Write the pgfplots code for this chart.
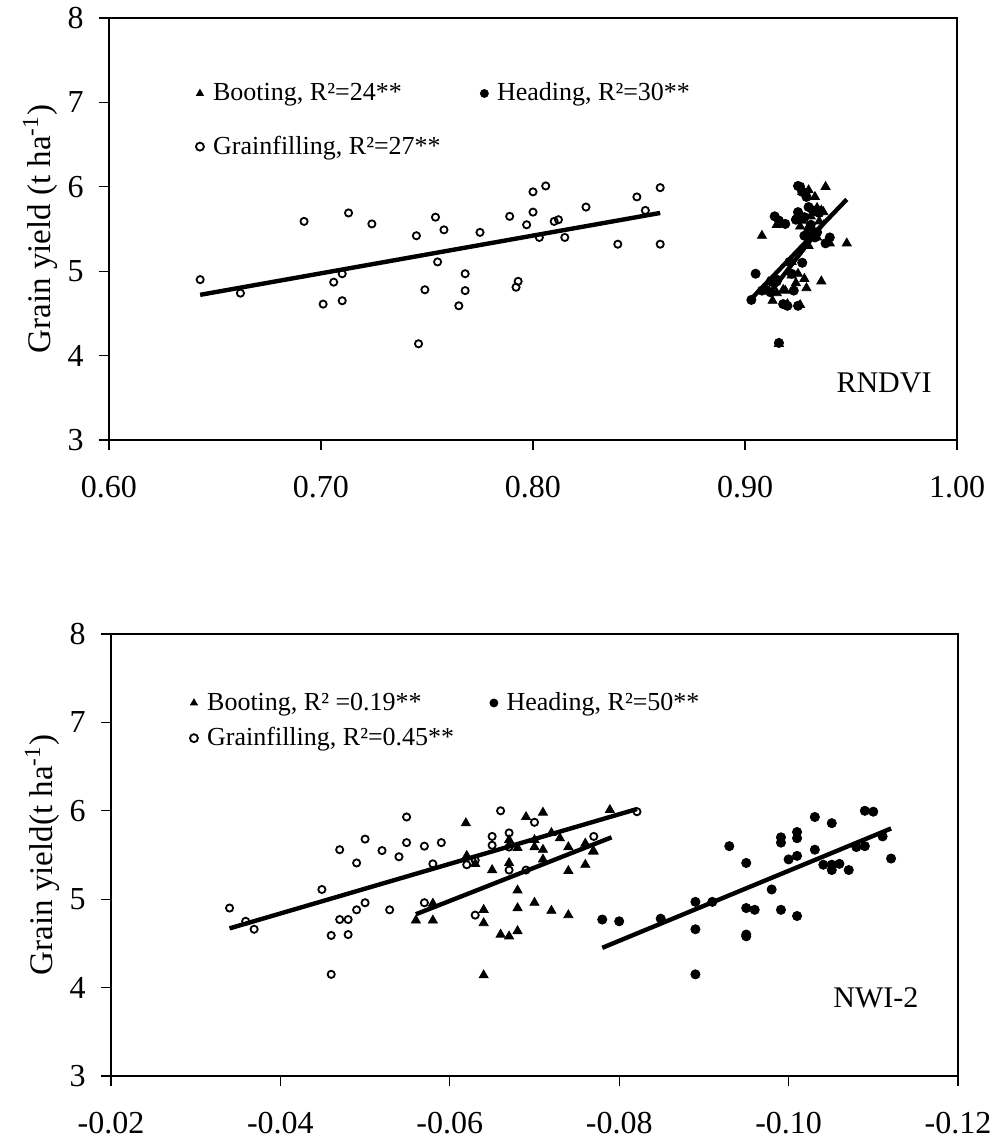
\documentclass[border=0pt]{standalone}
\usepackage{fontspec}
\setmainfont{Liberation Serif}
\usepackage{pgfplots}
\pgfplotsset{compat=1.18}

% 1 px of the reference = 0.5pt
\pgfplotsset{
  panel/.style={
    scale only axis,
    anchor=south west,
    ymin=3, ymax=8, ytick={3,4,5,6,7,8},
    tick align=outside, major tick length=5pt,
    tick pos=left,
    tick style={black, line width=0.6pt},
    /pgf/number format/assume math mode=true,
    ticklabel style={font=\fontsize{16}{18}\selectfont},
    x tick label style={yshift=-9.8pt},
    y tick label style={xshift=-4.2pt},
    ylabel style={font=\fontsize{16.5}{18}\selectfont, at={(axis description cs:-0.081,0.5)}, anchor=center},
    legend columns=2,
    legend cell align=left,
    legend style={draw=none, fill=none, font=\fontsize{13}{15}\selectfont, anchor=west, inner sep=0pt},
  },
  trend/.style={black, line width=2.2pt, no markers, forget plot},
  smallleg/.style={legend image code/.code={\draw[mark repeat=2,mark phase=2,##1,mark size=2pt] plot coordinates {(0cm,0cm) (0.1cm,0cm) (0.22cm,0cm)};
      \path (0pt,0pt) (7pt,0pt);}},
  boot/.style={only marks, mark=triangle*, mark size=2.6pt, black, smallleg},
  head/.style={only marks, mark=*, mark size=2.3pt, black, smallleg},
  grain/.style={only marks, mark=o, mark size=1.8pt, black, line width=0.9pt, mark options={fill=white}, smallleg},
}

\begin{document}
\begin{tikzpicture}
\useasboundingbox (0,0) rectangle (496pt,571pt);

% ---------------- RNDVI ----------------
\begin{axis}[panel,
  at={(54.5pt,351pt)}, width=424pt, height=211pt,
  xmin=0.6, xmax=1.0,
  xtick={0.6,0.7,0.8,0.9,1.0},
  xticklabels={0.60,0.70,0.80,0.90,1.00},
  axis line style={line width=1.3pt},
  ylabel={Grain yield (t ha\textsuperscript{-1})},
  legend style={at={(axis description cs:0.099,0.758)}, row sep=12pt,
    /tikz/every even column/.append style={column sep=16.8pt}},
]
\addplot[boot] coordinates {
(0.908,5.42) (0.911,4.87) (0.913,4.65) (0.915,4.74) (0.916,4.14) (0.915,5.55)
(0.918,4.78) (0.920,4.61) (0.922,4.95) (0.924,4.86) (0.925,4.97) (0.926,4.60)
(0.927,5.60) (0.928,4.91) (0.929,4.80) (0.930,5.96) (0.931,5.65) (0.932,5.50)
(0.933,5.88) (0.934,5.40) (0.935,5.59) (0.936,4.88) (0.936,5.72) (0.937,5.70)
(0.938,6.00) (0.940,5.33) (0.948,5.33) (0.926,5.53) (0.930,5.30) (0.934,5.75)
(0.924,5.64) (0.922,5.11) (0.929,5.46) (0.932,5.69) (0.919,4.77) (0.927,5.94)
};
\addlegendentry{Booting, R²=24**}
\addplot[head] coordinates {
(0.903,4.66) (0.905,4.97) (0.908,4.77) (0.910,4.78) (0.912,4.75) (0.913,4.87)
(0.915,4.88) (0.916,4.15) (0.914,5.65) (0.915,4.90) (0.916,5.60) (0.918,4.61)
(0.919,5.56) (0.920,4.59) (0.921,5.11) (0.922,4.97) (0.923,4.77) (0.924,5.61)
(0.925,5.70) (0.925,4.59) (0.925,6.01) (0.926,6.00) (0.927,5.94) (0.927,5.10)
(0.928,5.64) (0.928,5.42) (0.929,5.88) (0.930,5.49) (0.930,5.76) (0.931,5.55)
(0.932,5.72) (0.933,5.40) (0.934,5.46) (0.935,5.69) (0.938,5.33) (0.940,5.40)
};
\addlegendentry{Heading, R²=30**}
\addplot[grain] coordinates {
(0.643,4.90) (0.662,4.74) (0.692,5.59) (0.713,5.69) (0.724,5.56) (0.701,4.61)
(0.706,4.87) (0.710,4.97) (0.710,4.65) (0.745,5.42) (0.754,5.64) (0.758,5.49)
(0.755,5.11) (0.749,4.78) (0.768,4.97) (0.768,4.77) (0.765,4.59) (0.775,5.46)
(0.789,5.65) (0.797,5.55) (0.800,5.70) (0.800,5.94) (0.806,6.01) (0.803,5.40)
(0.810,5.59) (0.812,5.61) (0.815,5.40) (0.792,4.81) (0.793,4.88) (0.825,5.76)
(0.840,5.32) (0.849,5.88) (0.853,5.72) (0.860,5.99) (0.860,5.32) (0.746,4.14)
};
\addlegendentry{Grainfilling, R²=27**}
\addplot[trend] coordinates {(0.643,4.72) (0.860,5.69)};
\addplot[trend] coordinates {(0.904,4.70) (0.948,5.85)};
\addplot[trend] coordinates {(0.912,4.75) (0.938,5.60)};
\node[font=\fontsize{15}{17}\selectfont] at (axis cs:0.9656,3.68) {RNDVI};
\end{axis}

% ---------------- NWI-2 ----------------
\begin{axis}[panel,
  at={(55.5pt,33pt)}, width=423.5pt, height=221pt,
  xmin=-0.12, xmax=-0.02, x dir=reverse,
  xtick={-0.02,-0.04,-0.06,-0.08,-0.10,-0.12},
  xticklabels={-0.02,-0.04,-0.06,-0.08,-0.10,-0.12},
  axis line style={line width=0.7pt},
  ylabel={Grain yield(t ha\textsuperscript{-1})},
  legend style={at={(axis description cs:0.0897,0.804)}, row sep=3pt,
    /tikz/every even column/.append style={column sep=14.8pt}},
]
\addplot[boot] coordinates {
(-0.0619,5.86) (-0.0690,5.93) (-0.0710,5.98) (-0.0720,5.75) (-0.0730,5.69) (-0.0740,5.59)
(-0.0760,5.63) (-0.0770,5.54) (-0.0740,5.32) (-0.0760,5.39) (-0.0700,5.67) (-0.0700,5.59)
(-0.0710,5.56) (-0.0710,5.45) (-0.0670,5.67) (-0.0680,5.58) (-0.0670,5.41) (-0.0650,5.33)
(-0.0620,5.49) (-0.0630,5.40) (-0.0680,5.10) (-0.0680,4.90) (-0.0700,4.96) (-0.0720,4.87)
(-0.0740,4.82) (-0.0580,4.95) (-0.0560,4.76) (-0.0580,4.76) (-0.0640,4.88) (-0.0640,4.73)
(-0.0660,4.60) (-0.0670,4.58) (-0.0680,4.64) (-0.0640,4.14) (-0.0789,6.01) (-0.0769,5.54)
};
\addlegendentry{Booting, R² =0.19**}
\addplot[head] coordinates {
(-0.0780,4.77) (-0.0800,4.75) (-0.0849,4.78) (-0.0890,4.97) (-0.0890,4.66) (-0.0890,4.15)
(-0.0910,4.97) (-0.0930,5.60) (-0.0950,5.41) (-0.0950,4.90) (-0.0950,4.60) (-0.0960,4.88)
(-0.0980,5.11) (-0.0991,5.70) (-0.0991,5.64) (-0.0991,4.88) (-0.1010,5.76) (-0.1010,5.69)
(-0.1010,5.49) (-0.1010,4.81) (-0.1031,5.93) (-0.1031,5.56) (-0.1041,5.39) (-0.1051,5.86)
(-0.1051,5.39) (-0.1051,5.33) (-0.1071,5.33) (-0.1080,5.59) (-0.1090,6.00) (-0.1090,5.60)
(-0.1100,5.99) (-0.1111,5.71) (-0.1121,5.46) (-0.0950,4.58) (-0.1000,5.45) (-0.1060,5.40)
};
\addlegendentry{Heading, R²=50**}
\addplot[grain] coordinates {
(-0.0340,4.90) (-0.0359,4.75) (-0.0369,4.66) (-0.0449,5.11) (-0.0470,5.56) (-0.0490,5.41)
(-0.0500,5.68) (-0.0520,5.55) (-0.0540,5.48) (-0.0549,5.93) (-0.0549,5.64) (-0.0570,5.60)
(-0.0590,5.64) (-0.0580,5.40) (-0.0470,4.77) (-0.0480,4.77) (-0.0490,4.88) (-0.0500,4.96)
(-0.0460,4.59) (-0.0480,4.60) (-0.0529,4.88) (-0.0460,4.15) (-0.0570,4.96) (-0.0620,5.39)
(-0.0630,5.44) (-0.0630,4.82) (-0.0650,5.71) (-0.0650,5.61) (-0.0660,6.00) (-0.0670,5.75)
(-0.0670,5.59) (-0.0670,5.33) (-0.0690,5.33) (-0.0700,5.87) (-0.0770,5.71) (-0.0821,5.99)
};
\addlegendentry{Grainfilling, R²=0.45**}
\addplot[trend] coordinates {(-0.0340,4.67) (-0.0821,6.02)};
\addplot[trend] coordinates {(-0.0560,4.83) (-0.0791,5.70)};
\addplot[trend] coordinates {(-0.0780,4.45) (-0.1121,5.80)};
\node[font=\fontsize{15}{17}\selectfont] at (axis cs:-0.1103,3.89) {NWI-2};
\end{axis}
\end{tikzpicture}
\end{document}
